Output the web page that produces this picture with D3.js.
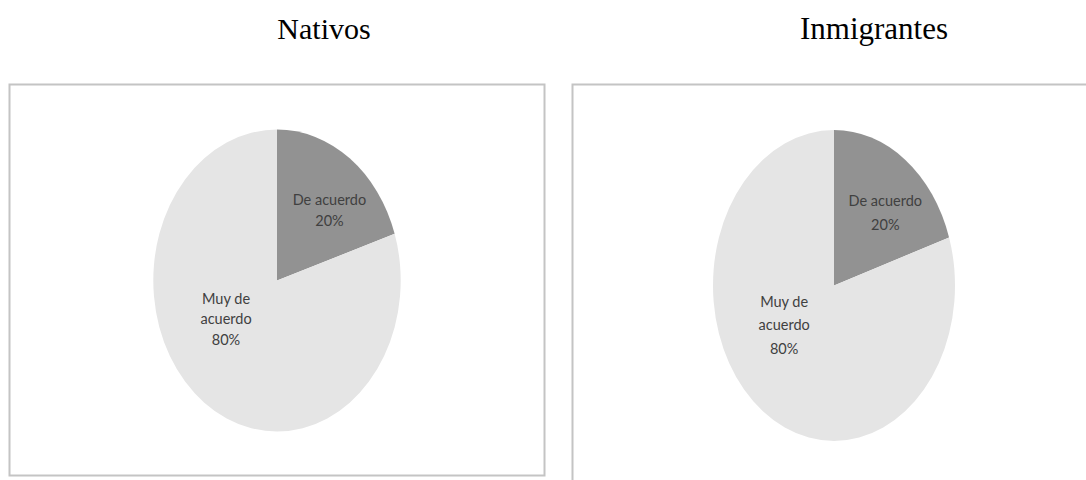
<!DOCTYPE html>
<html><head><meta charset="utf-8">
<script src="https://cdn.jsdelivr.net/npm/d3@7"></script>
<style>html,body{margin:0;padding:0;background:#fff;}svg{display:block;}</style>
</head><body>
<svg id="chart" width="1086" height="480"></svg>
<script>
// ---- data ----
const groups = ["Nativos", "Inmigrantes"];
const categories = ["De acuerdo", "Muy de acuerdo"];
const nativosValues = [20, 80];
const inmigrantesValues = [20, 80];
const labelLines = [["De acuerdo"], ["Muy de", "acuerdo"]];
const colors = ["#929292", "#e5e5e5"];

// ---- layout ----
const panels = [
  {title: groups[0], values: nativosValues, titleX: 324, titleSize: 30, box: [9.5, 84.5, 535, 391], cx: 277, cy: 280.5, rx: 123.7, ry: 151, lh: 20.5},
  {title: groups[1], values: inmigrantesValues, titleX: 874, titleSize: 31, box: [572.5, 84.5, 600, 420], cx: 834, cy: 285.5, rx: 121, ry: 155.5, lh: 23.5}
];
// normalized label offsets (fraction of radii)
const labelOffsets = [[0.424, -0.465], [-0.412, 0.256]];

const svg = d3.select("#chart");
const pie = d3.pie().sort(null).value(d => d);

panels.forEach(p => {
  svg.append("text")
    .attr("x", p.titleX).attr("y", 39)
    .attr("text-anchor", "middle")
    .attr("font-family", "'Liberation Serif', 'Times New Roman', serif")
    .attr("font-size", p.titleSize).attr("fill", "#000")
    .text(p.title);

  svg.append("rect")
    .attr("x", p.box[0]).attr("y", p.box[1])
    .attr("width", p.box[2]).attr("height", p.box[3])
    .attr("fill", "#fff").attr("stroke", "#c4c4c4").attr("stroke-width", 2);

  const arc = d3.arc().innerRadius(0).outerRadius(p.rx);
  const g = svg.append("g")
    .attr("transform", `translate(${p.cx},${p.cy}) scale(1,${p.ry / p.rx})`);
  const arcs = pie(p.values);
  g.selectAll("path").data(arcs).enter().append("path")
    .attr("d", arc)
    .attr("fill", (d, i) => colors[i]);

  const fmt = d3.format(".0%");
  const total = d3.sum(p.values);
  arcs.forEach((d, i) => {
    const lines = labelLines[i].concat([fmt(d.value / total)]);
    const lx = p.cx + labelOffsets[i][0] * p.rx;
    const ly = p.cy + labelOffsets[i][1] * p.ry;
    const t = svg.append("text")
      .attr("text-anchor", "middle")
      .attr("font-family", "Lato, 'Open Sans', sans-serif")
      .attr("font-size", 14.5).attr("fill", "#404040");
    const n = lines.length;
    lines.forEach((s, k) => {
      t.append("tspan")
        .attr("x", lx)
        .attr("y", ly + (k - (n - 1) / 2) * p.lh + 5)
        .text(s);
    });
  });
});
</script>
</body></html>
